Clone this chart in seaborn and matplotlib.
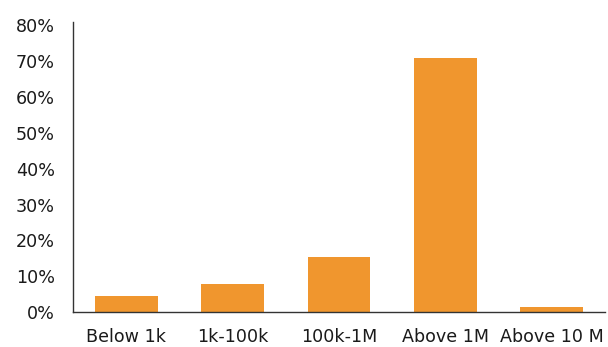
import matplotlib
matplotlib.use("Agg")
import matplotlib.pyplot as plt
import seaborn as sns
import pandas as pd
from matplotlib.ticker import FuncFormatter

# Share of holders by balance bracket (%)
categories = ["Below 1k", "1k-100k", "100k-1M", "Above 1M", "Above 10 M"]
shares = [4.5, 7.8, 15.5, 70.7, 1.5]
y_ticks = [0, 10, 20, 30, 40, 50, 60, 70, 80]

df = pd.DataFrame({"bracket": categories, "share": shares})

sns.set_theme(style="white")
plt.rcParams["font.family"] = ["DejaVu Sans"]

fig = plt.figure(figsize=(6.08, 3.47), dpi=100)
ax = fig.add_axes([0.120, 0.100, 0.875, 0.8366])

sns.barplot(data=df, x="bracket", y="share", color="#F0962E",
            width=0.59, saturation=1, ax=ax, edgecolor="none")

ax.set_xlim(-0.5, 4.5)
ax.set_ylim(0, 80.8)
ax.set_yticks(y_ticks)
ax.yaxis.set_major_formatter(FuncFormatter(lambda v, _: f"{v:.0f}%"))
ax.set_xlabel("")
ax.set_ylabel("")

for side in ("top", "right"):
    ax.spines[side].set_visible(False)
for side in ("left", "bottom"):
    ax.spines[side].set_color("#333333")
    ax.spines[side].set_linewidth(1.0)

ax.tick_params(axis="y", length=0, pad=13, labelsize=12.6, labelcolor="#1a1a1a")
ax.tick_params(axis="x", length=0, pad=11.5, labelsize=12.6, labelcolor="#1a1a1a")

fig.savefig("out.png", dpi=100)
